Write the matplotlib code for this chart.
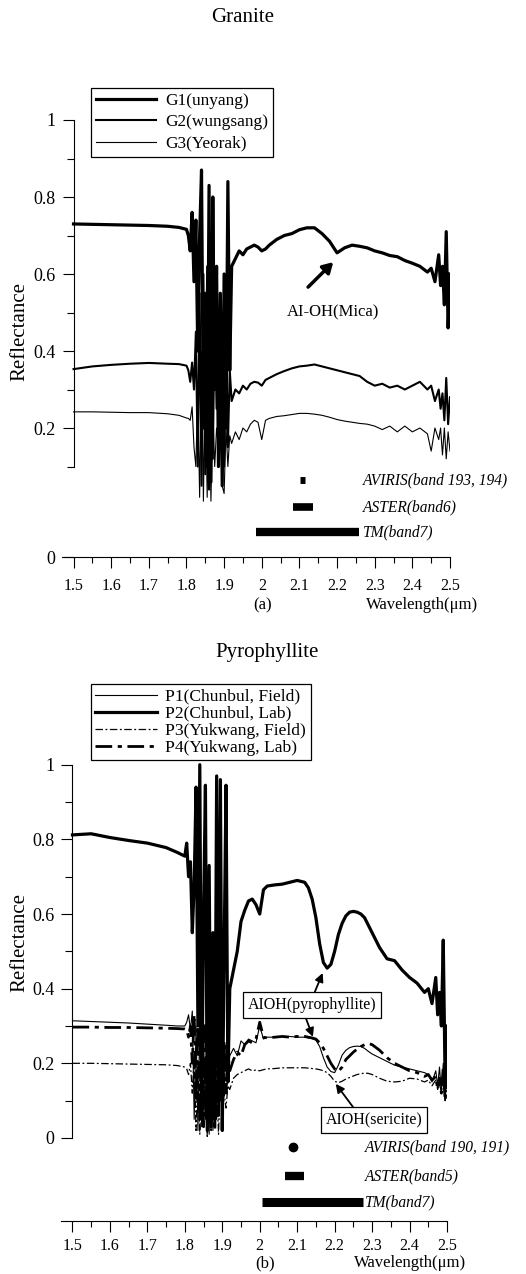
import numpy as np
import matplotlib.pyplot as plt
from matplotlib.ticker import FixedLocator, MultipleLocator

plt.rcParams['font.family'] = ['Liberation Serif', 'DejaVu Serif']

# ---- (a) Granite ----
wl_a = [1.50, 1.55, 1.60, 1.65, 1.70, 1.75, 1.78, 1.80,
        1.805, 1.81, 1.815, 1.82, 1.825, 1.83, 1.835, 1.84, 1.845, 1.85, 1.855, 1.86,
        1.865, 1.87, 1.875, 1.88, 1.885, 1.89, 1.895, 1.90, 1.905, 1.91, 1.915, 1.92,
        1.93, 1.94, 1.95, 1.96, 1.97, 1.98, 1.99, 2.00, 2.01, 2.02,
        2.04, 2.06, 2.08, 2.10, 2.12, 2.14, 2.16, 2.18, 2.20, 2.22, 2.24, 2.26, 2.28,
        2.30, 2.32, 2.34, 2.36, 2.38, 2.40, 2.42, 2.44,
        2.45, 2.46, 2.47, 2.475, 2.48, 2.485, 2.49, 2.495, 2.50]

g1 = [0.730, 0.729, 0.728, 0.727, 0.726, 0.724, 0.721, 0.716,
      0.70, 0.66, 0.76, 0.58, 0.74, 0.40, 0.70, 0.87, 0.20, 0.55, 0.10, 0.83,
      0.06, 0.80, 0.30, 0.62, 0.10, 0.55, 0.05, 0.60, 0.20, 0.84, 0.35, 0.62,
      0.64, 0.66, 0.65, 0.665, 0.67, 0.675, 0.67, 0.66, 0.665, 0.675,
      0.69, 0.70, 0.705, 0.715, 0.72, 0.72, 0.705, 0.685, 0.655, 0.668, 0.675, 0.672, 0.668,
      0.66, 0.655, 0.648, 0.645, 0.635, 0.628, 0.62, 0.605,
      0.615, 0.58, 0.65, 0.57, 0.62, 0.52, 0.71, 0.46, 0.60]

g2 = [0.353, 0.360, 0.364, 0.367, 0.369, 0.367, 0.366, 0.362,
      0.35, 0.32, 0.37, 0.30, 0.45, 0.10, 0.55, 0.05, 0.60, 0.08, 0.62, 0.04,
      0.58, 0.12, 0.50, 0.25, 0.45, 0.20, 0.40, 0.10, 0.45, 0.15, 0.35, 0.27,
      0.30, 0.29, 0.31, 0.30, 0.315, 0.32, 0.318, 0.31, 0.325, 0.33,
      0.34, 0.348, 0.355, 0.36, 0.362, 0.365, 0.36, 0.355, 0.35, 0.345, 0.34, 0.335, 0.32,
      0.31, 0.315, 0.305, 0.31, 0.30, 0.31, 0.32, 0.30,
      0.31, 0.27, 0.30, 0.25, 0.29, 0.22, 0.33, 0.21, 0.28]

g3 = [0.242, 0.242, 0.241, 0.240, 0.240, 0.237, 0.233, 0.226,
      0.225, 0.22, 0.255, 0.15, 0.10, 0.30, 0.02, 0.40, 0.01, 0.35, 0.02, 0.30,
      0.01, 0.25, 0.10, 0.20, 0.15, 0.25, 0.05, 0.03, 0.20, 0.10, 0.18, 0.16,
      0.19, 0.17, 0.20, 0.19, 0.21, 0.22, 0.215, 0.17, 0.22, 0.225,
      0.23, 0.232, 0.235, 0.238, 0.238, 0.236, 0.233, 0.228, 0.222, 0.218, 0.215, 0.212, 0.21,
      0.205, 0.196, 0.205, 0.19, 0.205, 0.19, 0.20, 0.185,
      0.14, 0.20, 0.17, 0.20, 0.13, 0.20, 0.12, 0.19, 0.14]

labels_a = ['G1(unyang)', 'G2(wungsang)', 'G3(Yeorak)']
bands_a = ['AVIRIS(band 193, 194)', 'ASTER(band6)', 'TM(band7)']
bands_a_lo = [2.102, 2.083, 1.986]
bands_a_hi = [2.114, 2.136, 2.258]

# ---- (b) Pyrophyllite ----
wl_b = [1.50, 1.55, 1.60, 1.65, 1.70, 1.75, 1.78, 1.80,
        1.805, 1.81, 1.815, 1.82, 1.825, 1.83, 1.835, 1.84, 1.845, 1.85, 1.855, 1.86,
        1.865, 1.87, 1.875, 1.88, 1.885, 1.89, 1.895, 1.90, 1.905, 1.91, 1.915, 1.92,
        1.93, 1.94, 1.95, 1.96, 1.97, 1.98, 1.99, 2.00, 2.01, 2.02,
        2.04, 2.06, 2.08, 2.10,
        2.12, 2.13, 2.14, 2.15, 2.16, 2.17, 2.18, 2.19, 2.20, 2.21, 2.22, 2.23, 2.24,
        2.25, 2.26, 2.27, 2.28, 2.29, 2.30,
        2.32, 2.34, 2.36, 2.38, 2.40, 2.42, 2.44,
        2.45, 2.46, 2.47, 2.475, 2.48, 2.485, 2.49, 2.495, 2.50]

p1 = [0.314, 0.312, 0.310, 0.308, 0.305, 0.302, 0.300, 0.300,
      0.31, 0.33, 0.29, 0.34, 0.05, 0.30, 0.02, 0.32, 0.03, 0.28, 0.05, 0.30,
      0.01, 0.25, 0.02, 0.30, 0.05, 0.22, 0.10, 0.30, 0.12, 0.25, 0.15, 0.22,
      0.24, 0.22, 0.26, 0.25, 0.265, 0.26, 0.255, 0.30, 0.265, 0.27,
      0.27, 0.272, 0.272, 0.27,
      0.27, 0.268, 0.266, 0.262, 0.245, 0.215, 0.19, 0.178, 0.175, 0.195, 0.222, 0.235, 0.242,
      0.245, 0.246, 0.245, 0.24, 0.232, 0.225,
      0.215, 0.205, 0.195, 0.19, 0.185, 0.18, 0.175,
      0.17, 0.15, 0.18, 0.14, 0.19, 0.12, 0.20, 0.10, 0.18]

p2 = [0.812, 0.815, 0.805, 0.797, 0.790, 0.778, 0.765, 0.755,
      0.79, 0.70, 0.74, 0.55, 0.68, 0.94, 0.30, 1.00, 0.05, 0.60, 0.945, 0.02,
      0.73, 0.03, 0.55, 0.05, 0.97, 0.10, 0.96, 0.02, 0.50, 0.945, 0.15, 0.40,
      0.45, 0.50, 0.58, 0.61, 0.635, 0.64, 0.625, 0.60, 0.665, 0.675,
      0.678, 0.68, 0.685, 0.69,
      0.685, 0.67, 0.64, 0.59, 0.52, 0.47, 0.455, 0.465, 0.50, 0.545, 0.575, 0.595, 0.605,
      0.607, 0.605, 0.60, 0.59, 0.57, 0.55,
      0.51, 0.48, 0.475, 0.45, 0.43, 0.415, 0.39,
      0.40, 0.36, 0.43, 0.33, 0.39, 0.30, 0.53, 0.15, 0.30]

p3 = [0.200, 0.200, 0.199, 0.198, 0.197, 0.196, 0.194, 0.190,
      0.185, 0.17, 0.20, 0.12, 0.22, 0.02, 0.20, 0.01, 0.18, 0.03, 0.20, 0.00,
      0.16, 0.02, 0.19, 0.05, 0.15, 0.01, 0.17, 0.04, 0.12, 0.08, 0.14, 0.13,
      0.16, 0.17, 0.175, 0.18, 0.185, 0.18, 0.182, 0.18, 0.183, 0.185,
      0.186, 0.188, 0.188, 0.188,
      0.188, 0.187, 0.186, 0.185, 0.183, 0.18, 0.175, 0.165, 0.152, 0.148, 0.152, 0.158, 0.162,
      0.166, 0.17, 0.172, 0.174, 0.173, 0.17,
      0.16, 0.152, 0.15, 0.152, 0.16, 0.158, 0.15,
      0.155, 0.14, 0.155, 0.13, 0.15, 0.12, 0.16, 0.10, 0.14]

p4 = [0.297, 0.297, 0.296, 0.296, 0.295, 0.294, 0.293, 0.292,
      0.29, 0.27, 0.30, 0.20, 0.33, 0.10, 0.30, 0.05, 0.32, 0.03, 0.31, 0.04,
      0.30, 0.08, 0.33, 0.02, 0.30, 0.06, 0.28, 0.10, 0.26, 0.12, 0.23, 0.18,
      0.21, 0.23, 0.22, 0.25, 0.26, 0.255, 0.265, 0.31, 0.27, 0.268,
      0.27, 0.272, 0.27, 0.272,
      0.272, 0.27, 0.268, 0.265, 0.255, 0.24, 0.22, 0.20, 0.185, 0.178, 0.19, 0.21, 0.22,
      0.23, 0.238, 0.245, 0.25, 0.253, 0.25,
      0.235, 0.215, 0.20, 0.19, 0.18, 0.175, 0.165,
      0.17, 0.155, 0.165, 0.13, 0.16, 0.12, 0.19, 0.10, 0.15]

labels_b = ['P1(Chunbul, Field)', 'P2(Chunbul, Lab)', 'P3(Yukwang, Field)', 'P4(Yukwang, Lab)']
bands_b = ['AVIRIS(band 190, 191)', 'ASTER(band5)', 'TM(band7)']
bands_b_lo = [2.084, 2.067, 2.005]
bands_b_hi = [2.092, 2.118, 2.275]

xticks = [1.5, 1.6, 1.7, 1.8, 1.9, 2.0, 2.1, 2.2, 2.3, 2.4, 2.5]
xticklabels = ['1.5', '1.6', '1.7', '1.8', '1.9', '2', '2.1', '2.2', '2.3', '2.4', '2.5']

W, H = 526, 1274
fig = plt.figure(figsize=(W / 100, H / 100), dpi=100)


def add_ax(x0, x1, ytop, ybot):
    return fig.add_axes([x0 / W, 1 - ybot / H, (x1 - x0) / W, (ybot - ytop) / H])


def style(ax, ymin, ytop, spine_lo, ytick_pos, ytick_lab, xpad):
    ax.set_xlim(1.5 - 11.5 / 376, 2.5)
    ax.set_ylim(ymin, ytop)
    for s in ['top', 'right']:
        ax.spines[s].set_visible(False)
    ax.spines['left'].set_position(('data', 1.5))
    ax.spines['left'].set_bounds(spine_lo, 1.0)
    for s in ['left', 'bottom']:
        ax.spines[s].set_linewidth(0.8)
    ax.set_xticks(xticks)
    ax.set_xticklabels(xticklabels)
    ax.xaxis.set_minor_locator(MultipleLocator(0.05))
    ax.yaxis.set_major_locator(FixedLocator(ytick_pos))
    ax.set_yticklabels(ytick_lab)
    ax.yaxis.set_minor_locator(FixedLocator([0.1, 0.3, 0.5, 0.7, 0.9]))
    ax.tick_params(axis='x', which='major', direction='out', length=8, width=0.8,
                   pad=xpad, labelsize=11.5)
    ax.tick_params(axis='x', which='minor', direction='out', length=4, width=0.8)
    ax.tick_params(axis='y', which='major', direction='out', length=8, width=0.8,
                   pad=5, labelsize=13)
    ax.tick_params(axis='y', which='minor', direction='out', length=5, width=0.8)


def add_bands(ax, names, lo, hi, levels, thick, xtext, round_first=False):
    for i, name in enumerate(names):
        if round_first and i == 0:
            ax.plot([(lo[i] + hi[i]) / 2], [levels[i]], 'o', color='k', ms=6, clip_on=False)
        else:
            ax.plot([lo[i], hi[i]], [levels[i], levels[i]], '-', color='k', lw=thick[i],
                    solid_capstyle='butt', clip_on=False)
        ax.text(xtext, levels[i], name, style='italic', fontsize=11.2, va='center',
                ha='left', clip_on=False)


# ---------------- panel (a) ----------------
ya0 = -0.135
ax1 = add_ax(62, 450, 120, 557)
style(ax1, ya0, 1.0, 0.1, [ya0, 0.2, 0.4, 0.6, 0.8, 1.0],
      ['0', '0.2', '0.4', '0.6', '0.8', '1'], 7)
h1, = ax1.plot(wl_a, g1, '-', color='k', lw=2.3, solid_joinstyle='round')
h2, = ax1.plot(wl_a, g2, '-', color='k', lw=1.5, solid_joinstyle='round')
h3, = ax1.plot(wl_a, g3, '-', color='k', lw=0.8)

add_bands(ax1, bands_a, bands_a_lo, bands_a_hi, [0.065, -0.005, -0.07],
          [5, 5.5, 6], 2.269)

ax1.annotate('', xy=(2.19, 0.631), xytext=(2.123, 0.566),
             arrowprops=dict(arrowstyle='-|>,head_length=0.6,head_width=0.35',
                             lw=2.5, color='k', shrinkA=0, shrinkB=0))
ax1.text(2.19, 0.50, 'AI-OH(Mica)', fontsize=12, ha='center', va='center')

leg1 = ax1.legend([h1, h2, h3], labels_a, loc='upper left',
                  bbox_to_anchor=(91 / W, 1 - 88 / H), bbox_transform=fig.transFigure,
                  borderaxespad=0, fancybox=False, edgecolor='k', framealpha=1,
                  handlelength=3.5, handletextpad=0.5, borderpad=0.3,
                  labelspacing=0.3, fontsize=12.4)
leg1.get_frame().set_linewidth(0.9)

fig.text(243 / W, 1 - 18 / H, 'Granite', fontsize=15, ha='center', va='center')
fig.text(20 / W, 1 - 332 / H, 'Reflectance', fontsize=15, rotation=90,
         ha='center', va='center')
fig.text(263 / W, 1 - 605 / H, '(a)', fontsize=12, ha='center', va='center')
fig.text(422 / W, 1 - 605 / H, 'Wavelength(\u03bcm)', fontsize=12, ha='center', va='center')

# ---------------- panel (b) ----------------
yb0 = -0.2225
ax2 = add_ax(61, 447, 761, 1221)
style(ax2, yb0, 1.01, 0.0, [0.0, 0.2, 0.4, 0.6, 0.8, 1.0],
      ['0', '0.2', '0.4', '0.6', '0.8', '1'], 4)
dashdot = (0, (6, 2, 1.5, 2))
k1, = ax2.plot(wl_b, p1, '-', color='k', lw=0.8)
k2, = ax2.plot(wl_b, p2, '-', color='k', lw=2.3, solid_joinstyle='round')
k3, = ax2.plot(wl_b, p3, color='k', lw=0.9, linestyle=dashdot)
k4, = ax2.plot(wl_b, p4, color='k', lw=2.0, linestyle=dashdot)

add_bands(ax2, bands_b, bands_b_lo, bands_b_hi, [-0.024, -0.102, -0.172],
          [5, 6, 6.5], 2.281, round_first=True)

box = dict(boxstyle='square,pad=0.3', fc='white', ec='k', lw=0.9)
thin_arrow = dict(arrowstyle='-|>,head_length=0.5,head_width=0.25', lw=1.3,
                  color='k', shrinkA=0, shrinkB=0)
ax2.annotate('', xy=(2.168, 0.442), xytext=(2.147, 0.391), arrowprops=thin_arrow)
ax2.annotate('', xy=(2.142, 0.271), xytext=(2.122, 0.324), arrowprops=thin_arrow)
ax2.text(2.139, 0.357, 'AIOH(pyrophyllite)', fontsize=11.5, ha='center',
         va='center', bbox=box)
ax2.annotate('', xy=(2.203, 0.145), xytext=(2.249, 0.083), arrowprops=thin_arrow)
ax2.text(2.305, 0.048, 'AIOH(sericite)', fontsize=11.5, ha='center',
         va='center', bbox=box)

leg2 = ax2.legend([k1, k2, k3, k4], labels_b, loc='upper left',
                  bbox_to_anchor=(91 / W, 1 - 684 / H), bbox_transform=fig.transFigure,
                  borderaxespad=0, fancybox=False, edgecolor='k', framealpha=1,
                  handlelength=3.5, handletextpad=0.5, borderpad=0.25,
                  labelspacing=0.05, fontsize=12.6)
leg2.get_frame().set_linewidth(0.9)

fig.text(267 / W, 1 - 652 / H, 'Pyrophyllite', fontsize=15, ha='center', va='center')
fig.text(20 / W, 1 - 943 / H, 'Reflectance', fontsize=15, rotation=90,
         ha='center', va='center')
fig.text(265 / W, 1 - 1263 / H, '(b)', fontsize=12, ha='center', va='center')
fig.text(410 / W, 1 - 1263 / H, 'Wavelength(\u03bcm)', fontsize=12, ha='center', va='center')

fig.savefig('out.png', dpi=100)
